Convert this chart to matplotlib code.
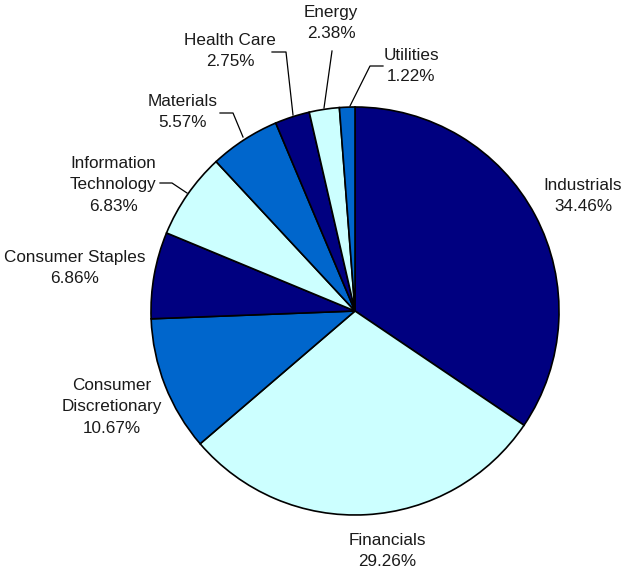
import matplotlib
matplotlib.use("Agg")
import matplotlib.pyplot as plt

categories = ["Industrials", "Financials", "Consumer\nDiscretionary", "Consumer Staples",
              "Information\nTechnology", "Materials", "Health Care", "Energy", "Utilities"]
values = [34.46, 29.26, 10.67, 6.86, 6.83, 5.57, 2.75, 2.38, 1.22]
colors = ["#000080", "#CCFFFF", "#0066CC", "#000080", "#CCFFFF", "#0066CC",
          "#000080", "#CCFFFF", "#0066CC"]

W, H = 626, 572
fig = plt.figure(figsize=(W / 100, H / 100), dpi=100)
ax = fig.add_axes([0, 0, 1, 1])

cx, cy, r = 355, H - 311, 204
ax.pie(values, colors=colors, startangle=90, counterclock=False,
       center=(cx, cy), radius=r, frame=True,
       wedgeprops=dict(edgecolor="black", linewidth=1.2))
ax.set_xlim(0, W)
ax.set_ylim(0, H)
ax.set_aspect("equal")
ax.axis("off")

# label positions (pixel coords, y from top)
label_pos = [(583, 196), (387, 551), (112, 407), (75, 268), (113, 185),
             (183, 112), (230, 51), (331, 23), (411, 66)]
# leader lines (pixel coords, y from top)
leaders = {
    4: [(160, 183), (172, 183), (187, 193)],
    5: [(220, 113), (233, 113), (243, 137)],
    6: [(272, 52), (286, 52), (293, 115)],
    7: [(332, 51), (324, 108)],
    8: [(383, 66), (370, 66), (350, 106)],
}

font = "Liberation Sans"
for i, (cat, v) in enumerate(zip(categories, values)):
    x, y = label_pos[i]
    ax.text(x, H - y, f"{cat}\n{v:.2f}%", ha="center", va="center",
            fontsize=12.3, family=font, linespacing=1.55, color="#1a1a1a")
for i, pts in leaders.items():
    xs = [p[0] for p in pts]
    ys = [H - p[1] for p in pts]
    ax.plot(xs, ys, color="black", linewidth=0.9)

fig.savefig("out.png", dpi=100)
